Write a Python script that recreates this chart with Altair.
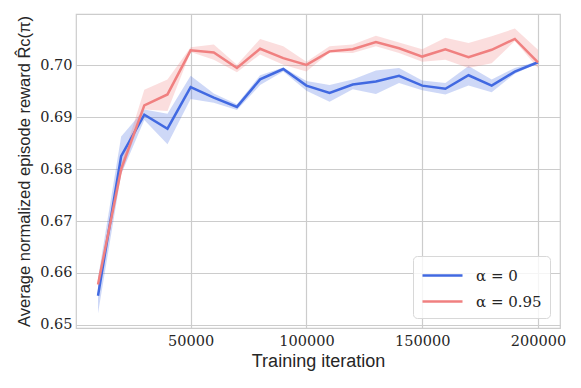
import altair as alt
import pandas as pd

iterations = [10000, 20000, 30000, 40000, 50000, 60000, 70000, 80000, 90000, 100000,
              110000, 120000, 130000, 140000, 150000, 160000, 170000, 180000, 190000, 200000]

series_names = ["α = 0", "α = 0.95"]
series_colors = ["#4169E1", "#F08080"]

blue_mean = [0.6556, 0.6825, 0.6905, 0.6878, 0.6958, 0.6938, 0.6920, 0.6973, 0.6993, 0.6961,
             0.6947, 0.6963, 0.6969, 0.6980, 0.6961, 0.6955, 0.6981, 0.6961, 0.6988, 0.7006]
blue_lo = [0.6522, 0.6790, 0.6895, 0.6848, 0.6935, 0.6928, 0.6914, 0.6962, 0.6988, 0.6951,
           0.6930, 0.6954, 0.6945, 0.6966, 0.6952, 0.6944, 0.6961, 0.6948, 0.6984, 0.7004]
blue_hi = [0.6590, 0.6863, 0.6915, 0.6907, 0.6980, 0.6946, 0.6925, 0.6981, 0.6996, 0.6970,
           0.6962, 0.6973, 0.6990, 0.6995, 0.6971, 0.6966, 0.6999, 0.6973, 0.6995, 0.7008]

red_mean = [0.6578, 0.6800, 0.6923, 0.6944, 0.7029, 0.7025, 0.6995, 0.7032, 0.7014, 0.7001,
            0.7027, 0.7031, 0.7045, 0.7033, 0.7017, 0.7031, 0.7016, 0.7030, 0.7051, 0.7006]
red_lo = [0.6570, 0.6790, 0.6915, 0.6912, 0.7026, 0.7011, 0.6987, 0.7021, 0.7001, 0.6988,
          0.7025, 0.7024, 0.7037, 0.7024, 0.7007, 0.7011, 0.6995, 0.7004, 0.7047, 0.6995]
red_hi = [0.6588, 0.6810, 0.6953, 0.6973, 0.7035, 0.7040, 0.7001, 0.7051, 0.7037, 0.7007,
          0.7037, 0.7040, 0.7057, 0.7044, 0.7031, 0.7053, 0.7043, 0.7056, 0.7071, 0.7030]

x_ticks = [50000, 100000, 150000, 200000]
y_ticks = [0.65, 0.66, 0.67, 0.68, 0.69, 0.70]

rows = []
for name, means, los, his in [(series_names[0], blue_mean, blue_lo, blue_hi),
                              (series_names[1], red_mean, red_lo, red_hi)]:
    for it, m, lo, hi in zip(iterations, means, los, his):
        rows.append({"iteration": it, "series": name, "mean": m, "lo": lo, "hi": hi})
df = pd.DataFrame(rows)

SERIF = "DejaVu Serif"
SANS = "Liberation Sans"

color_scale = alt.Scale(domain=series_names, range=series_colors)

legend = alt.Legend(
    title=None, orient="bottom-right", offset=10,
    symbolType="M-2,0L2,0", symbolSize=400, symbolStrokeWidth=2.5, symbolOpacity=1,
    symbolOffset=10,
    labelFont=SERIF, labelFontSize=15, labelColor="#262626",
    labelOffset=22, rowPadding=6, padding=8,
    strokeColor="#d8d8d8", fillColor="rgba(255,255,255,0.8)",
    cornerRadius=4,
)

x_enc = alt.X(
    "iteration:Q",
    scale=alt.Scale(domain=[500, 209500], nice=False, zero=False),
    axis=alt.Axis(values=x_ticks, format="d", title="Training iteration",
                  labelPadding=6, titlePadding=5, labelFont=SERIF, titleFontSize=18),
)
y_axis = alt.Axis(values=y_ticks, format=".2f",
                  title="Average normalized episode reward R̂c(π)",
                  labelPadding=4, titlePadding=7, labelFont=SERIF, titleFontSize=16.5)
y_scale = alt.Scale(domain=[0.6494, 0.7099], nice=False, zero=False)

band = alt.Chart(df).mark_area(opacity=0.26).encode(
    x=x_enc,
    y=alt.Y("lo:Q", scale=y_scale, axis=y_axis),
    y2="hi:Q",
    color=alt.Color("series:N", scale=color_scale, legend=legend),
)

line = alt.Chart(df).mark_line(strokeWidth=2.5).encode(
    x=x_enc,
    y=alt.Y("mean:Q", scale=y_scale, axis=y_axis),
    color=alt.Color("series:N", scale=color_scale, legend=legend),
)

chart = alt.layer(band, line).properties(
    width=484, height=314,
    autosize=alt.AutoSizeParams(type="none"),
    padding={"left": 68, "top": 6, "right": 13, "bottom": 50},
).configure_view(
    stroke="#cccccc", strokeWidth=1.2,
).configure_axis(
    domain=False, ticks=False, grid=True, gridColor="#cccccc", gridWidth=1.2,
    labelFontSize=14.5, labelColor="#262626",
    titleFont=SANS, titleFontWeight="normal",
    titleColor="#262626",
)

chart.save("out.html", embed_options={"renderer": "svg", "actions": False})
